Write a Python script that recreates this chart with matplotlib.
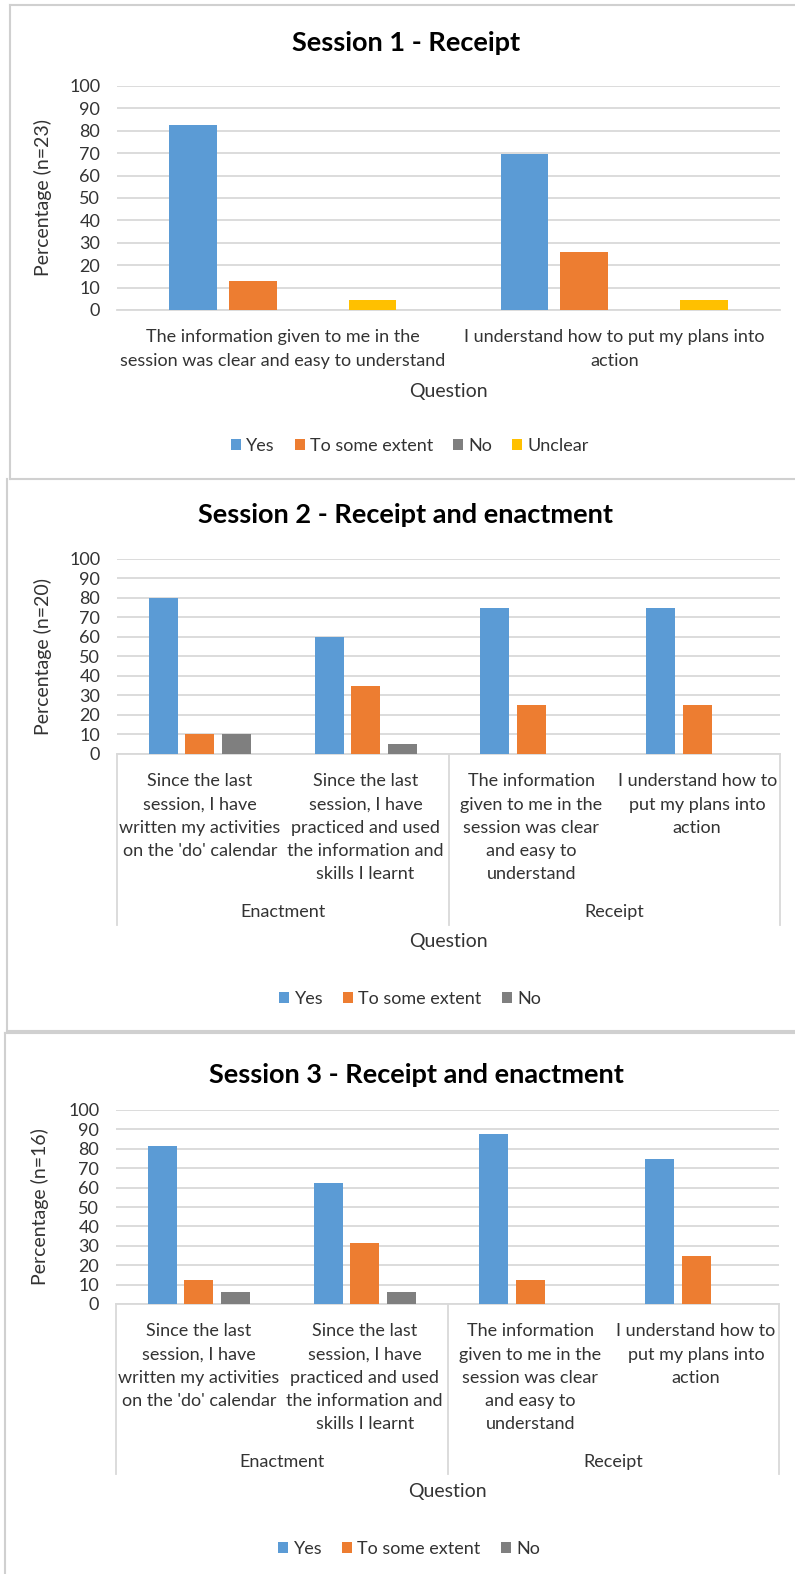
import matplotlib
matplotlib.use("Agg")
import matplotlib.pyplot as plt
from matplotlib.patches import Patch
from matplotlib.lines import Line2D
from matplotlib.transforms import blended_transform_factory

plt.rcParams['font.family'] = ['Lato', 'DejaVu Sans']

# ---- data ----
series_names = ['Yes', 'To some extent', 'No', 'Unclear']
colors = ['#5B9BD5', '#ED7D31', '#7F7F7F', '#FFC000']

s1_questions = ['The information given to me in the\nsession was clear and easy to understand',
                'I understand how to put my plans into\naction']
s1_yes = [82.6, 69.6]
s1_some = [13.0, 26.1]
s1_no = [0, 0]
s1_unclear = [4.3, 4.3]

s23_questions = ["Since the last\nsession, I have\nwritten my activities\non the 'do' calendar",
                 "Since the last\nsession, I have\npracticed and used\nthe information and\nskills I learnt",
                 "The information\ngiven to me in the\nsession was clear\nand easy to\nunderstand",
                 "I understand how to\nput my plans into\naction"]
s23_groups = ['Enactment', 'Receipt']

s2_yes = [80, 60, 75, 75]
s2_some = [10, 35, 25, 25]
s2_no = [10, 5, 0, 0]

s3_yes = [81.25, 62.5, 87.5, 75]
s3_some = [12.5, 31.25, 12.5, 25]
s3_no = [6.25, 6.25, 0, 0]

W, H = 795, 1574
fig = plt.figure(figsize=(W / 100, H / 100), dpi=100)

GRID = '#D9D9D9'
TXT = '#333333'


def px_axes(left, top, right, bottom):
    return fig.add_axes([left / W, 1 - bottom / H, (right - left) / W, (bottom - top) / H])


def draw_panel(ax, questions, values, names, ylabel, ylab_x, q_y, leg_y):
    n = len(values)
    w = 1.0 / (n * 1.25 - 0.25 + 2.18)
    x = list(range(len(questions)))
    for i, vals in enumerate(values):
        off = (i - (n - 1) / 2) * 1.25 * w
        ax.bar([xx + off for xx in x], vals, width=w, color=colors[i], label=names[i], zorder=3)
    ax.set_xlim(-0.5, len(questions) - 0.5)
    ax.set_ylim(0, 100)
    ax.set_yticks(range(0, 101, 10))
    ax.yaxis.grid(True, color=GRID, lw=1.3, zorder=0)
    for sp in ['top', 'right', 'left']:
        ax.spines[sp].set_visible(False)
    ax.spines['bottom'].set_color(GRID)
    ax.spines['bottom'].set_linewidth(1.3)
    ax.tick_params(axis='y', length=0, pad=12, labelsize=13, labelcolor=TXT)
    ax.tick_params(axis='x', length=0, pad=14, labelsize=13, labelcolor=TXT)
    ax.set_xticks(x)
    ax.set_xticklabels(questions, linespacing=1.55)
    ax.set_ylabel(ylabel, fontsize=14, color=TXT)
    ax.yaxis.set_label_coords(ylab_x, 0.5)
    ax.text(0.5, q_y, 'Question', transform=ax.transAxes, ha='center', va='center',
            fontsize=14, color=TXT)
    handles = [Patch(facecolor=colors[i], edgecolor='none') for i in range(n)]
    ax.legend(handles, names[:n], loc='center', bbox_to_anchor=(0.442, leg_y),
              ncol=n, frameon=False, fontsize=13, handlelength=0.55, handleheight=0.55,
              handletextpad=0.3, columnspacing=1.1, labelcolor=TXT)


def multilevel(ax, y_bot, y_grp):
    trans = blended_transform_factory(ax.transData, ax.transAxes)
    for xb in [-0.5, 1.5, 3.5]:
        ax.plot([xb, xb], [0, y_bot], transform=trans, clip_on=False, color=GRID, lw=1.3)
    for gx, g in zip([0.5, 2.5], s23_groups):
        ax.text(gx, y_grp, g, transform=trans, ha='center', va='center', fontsize=13, color=TXT)


# panel 1
ax1 = px_axes(117, 86, 780, 310)
draw_panel(ax1, s1_questions, [s1_yes, s1_some, s1_no, s1_unclear], series_names,
           'Percentage (n=23)', -0.098, -0.362, -0.607)
fig.text(406 / W, 1 - 43 / H, 'Session 1 - Receipt', ha='center', va='center',
         fontsize=19.5, fontweight='bold', color='black')

# panel 2
ax2 = px_axes(117, 559, 780, 754)
draw_panel(ax2, s23_questions, [s2_yes, s2_some, s2_no], series_names,
           'Percentage (n=20)', -0.098, -0.964, -1.256)
multilevel(ax2, -0.877, -0.81)
fig.text(406 / W, 1 - 515 / H, 'Session 2 - Receipt and enactment', ha='center', va='center',
         fontsize=19.5, fontweight='bold', color='black')

# panel 3
ax3 = px_axes(116, 1110, 779, 1304)
draw_panel(ax3, s23_questions, [s3_yes, s3_some, s3_no], series_names,
           'Percentage (n=16)', -0.101, -0.969, -1.263)
multilevel(ax3, -0.876, -0.814)
fig.text(416 / W, 1 - 1075 / H, 'Session 3 - Receipt and enactment', ha='center', va='center',
         fontsize=19.5, fontweight='bold', color='black')

# panel borders
BORDER = '#D0D0D0'
segs = [((10, 5), (795, 5)), ((10, 5), (10, 479)), ((10, 479), (795, 479)),
        ((7, 479), (7, 1031)), ((7, 1031), (795, 1031)),
        ((5, 1033), (795, 1033)), ((5, 1033), (5, 1574))]
for (x0, y0), (x1, y1) in segs:
    fig.add_artist(Line2D([x0 / W, x1 / W], [1 - y0 / H, 1 - y1 / H],
                          transform=fig.transFigure, color=BORDER, lw=1.5))

fig.savefig('out.png', dpi=100)
